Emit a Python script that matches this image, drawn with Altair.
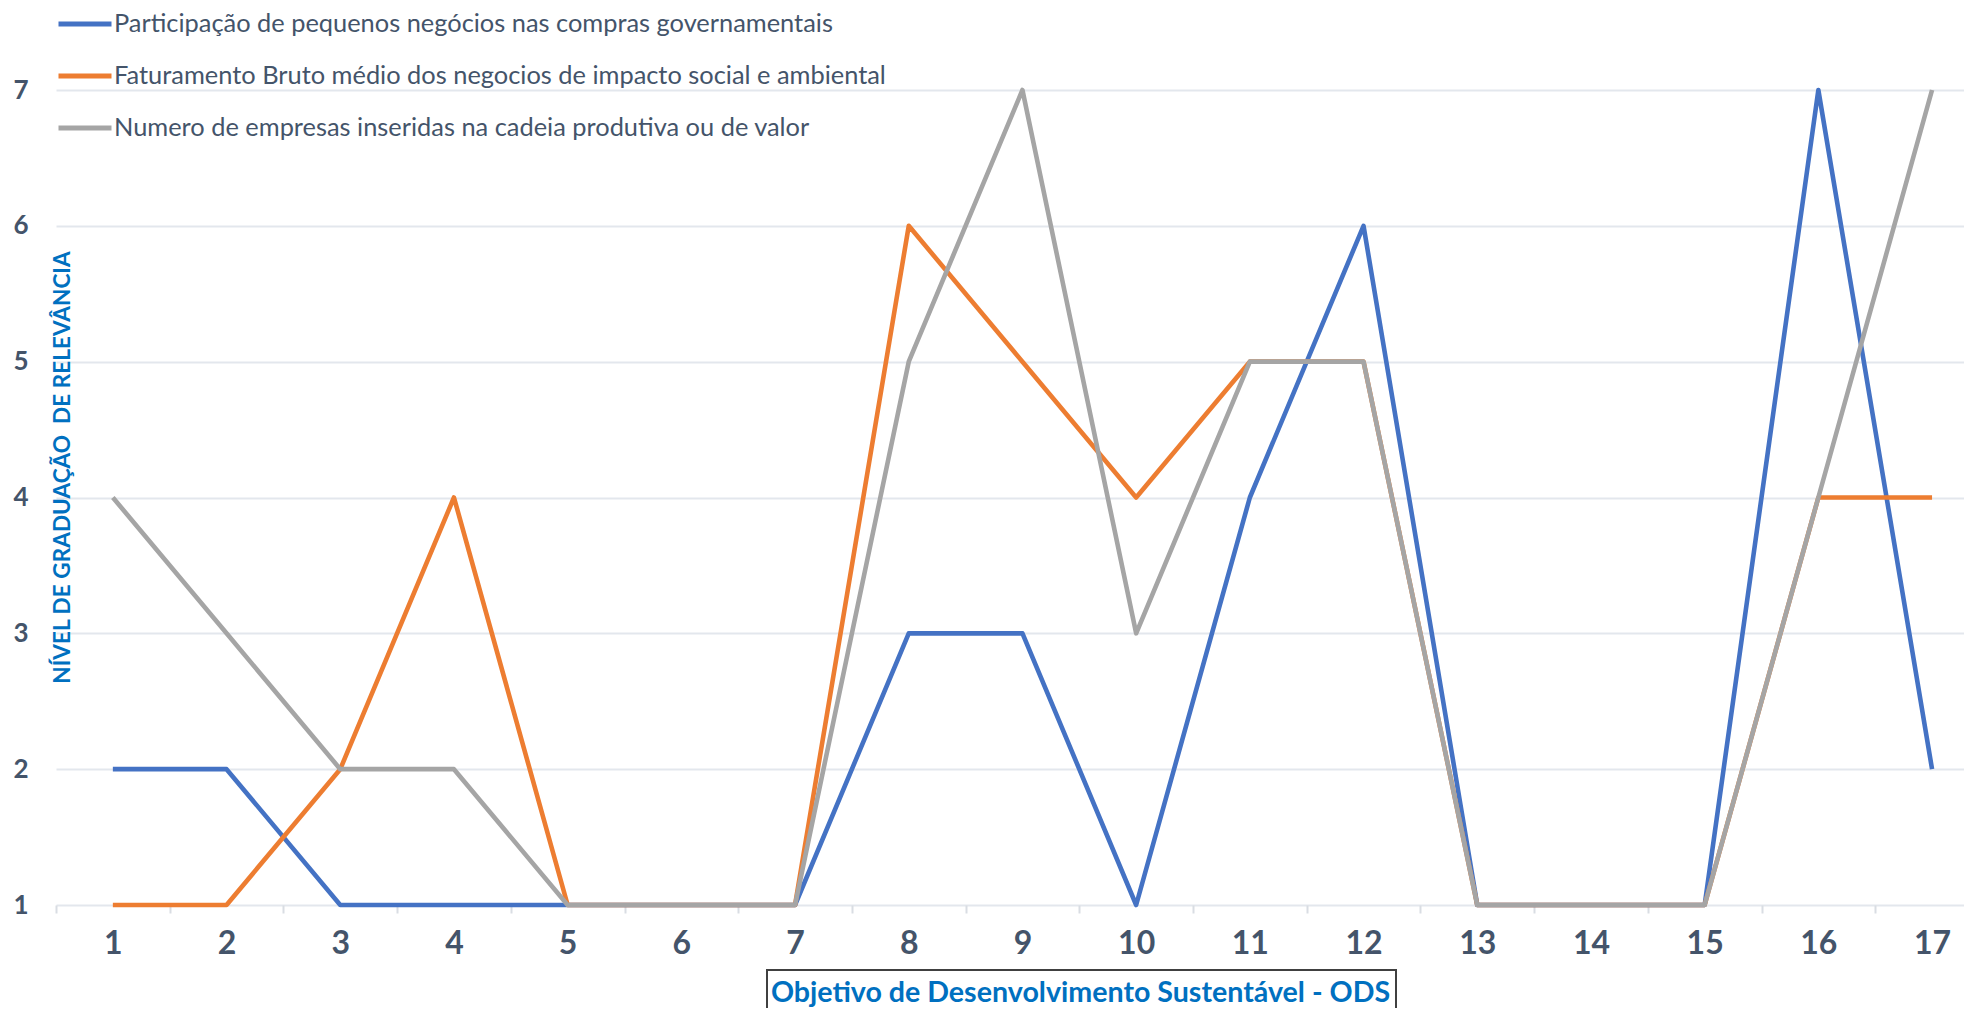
import altair as alt
import pandas as pd

# ---- data ----
ods = list(range(1, 18))
serie_names = [
    "Participação de pequenos negócios nas compras governamentais",
    "Faturamento Bruto médio dos negocios de impacto social e ambiental",
    "Numero de empresas inseridas na cadeia produtiva ou de valor",
]
participacao = [2, 2, 1, 1, 1, 1, 1, 3, 3, 1, 4, 6, 1, 1, 1, 7, 2]
faturamento = [1, 1, 2, 4, 1, 1, 1, 6, 5, 4, 5, 5, 1, 1, 1, 4, 4]
numero_empresas = [4, 3, 2, 2, 1, 1, 1, 5, 7, 3, 5, 5, 1, 1, 1, 4, 7]
y_ticks = [1, 2, 3, 4, 5, 6, 7]
colors = ["#4472C4", "#ED7D31", "#A5A5A5"]

x_title = "Objetivo de Desenvolvimento Sustentável - ODS"
y_title = "NÍVEL DE GRADUAÇÃO\u00a0 DE RELEVÂNCIA"

rows = []
for name, vals in zip(serie_names, [participacao, faturamento, numero_empresas]):
    for o, v in zip(ods, vals):
        rows.append({"ODS": o, "Nivel": v, "Serie": name})
df = pd.DataFrame(rows)

W = 1908
H = 815
step = 113.7
x_max = 0.5 + W / step
x_axis_values = sorted([o - 0.5 for o in ods] + ods)

TEXT = "#44546A"
BLUE_T = "#0070C0"
GRID = "#E3E7ED"

lines = alt.Chart(df).mark_line(strokeWidth=4.6, strokeJoin="round").encode(
    x=alt.X(
        "ODS:Q",
        scale=alt.Scale(domain=[0.5, x_max], nice=False, zero=False),
        axis=alt.Axis(
            values=x_axis_values,
            labelExpr="datum.value % 1 === 0 ? '' + datum.value : ''",
            labelOverlap=False,
            labelFlush=False,
            grid=False,
            domain=False,
            ticks=True,
            tickSize=8,
            tickWidth=2,
            tickColor={"condition": {"test": "datum.value % 1 !== 0", "value": "#D9DDE3"},
                       "value": "transparent"},
            labelFontSize=32,
            labelFontWeight="bold",
            labelColor=TEXT,
            labelPadding=15,
            labelBaseline="top",
            title=x_title,
            titleFontSize=28.6,
            titleFontWeight="bold",
            titleColor=BLUE_T,
            titleX=1024,
            titleY=96,
            titleAlign="center",
            titleBaseline="alphabetic",
        ),
    ),
    y=alt.Y(
        "Nivel:Q",
        scale=alt.Scale(domain=[1, 7], nice=False, zero=False),
        axis=alt.Axis(
            values=y_ticks,
            grid=True,
            gridColor=GRID,
            gridWidth=2,
            domain=False,
            ticks=False,
            labelFontSize=26,
            labelFontWeight="bold",
            labelColor=TEXT,
            labelPadding=28,
            title=y_title,
            titleFontSize=22.6,
            titleFontWeight="bold",
            titleColor=BLUE_T,
            titleAngle=270,
            titleX=6,
            titleY=377,
            titleAlign="center",
            titleBaseline="middle",
        ),
    ),
    color=alt.Color(
        "Serie:N",
        scale=alt.Scale(domain=serie_names, range=colors),
        legend=alt.Legend(
            orient="none",
            legendX=0,
            legendY=-95,
            title=None,
            direction="vertical",
            symbolType="stroke",
            symbolSize=2809,
            symbolStrokeWidth=5,
            labelFontSize=25.4,
            labelColor=TEXT,
            labelLimit=0,
            labelOffset=0,
            rowPadding=9,
            padding=0,
        ),
    ),
)

box = alt.Chart(alt.Data(values=[{"k": 0}])).mark_rect(
    filled=False, stroke="#404040", strokeWidth=2
).encode(
    x=alt.value(711), x2=alt.value(1340), y=alt.value(880), y2=alt.value(960)
)

chart = alt.layer(lines, box).properties(
    width=W,
    height=H,
    padding={"left": 48, "top": 82, "right": 0, "bottom": 103},
    autosize=alt.AutoSizeParams(type="none"),
).configure(font="Lato").configure_view(stroke=None)

chart.save("out.html", embed_options={"renderer": "svg", "actions": False})
